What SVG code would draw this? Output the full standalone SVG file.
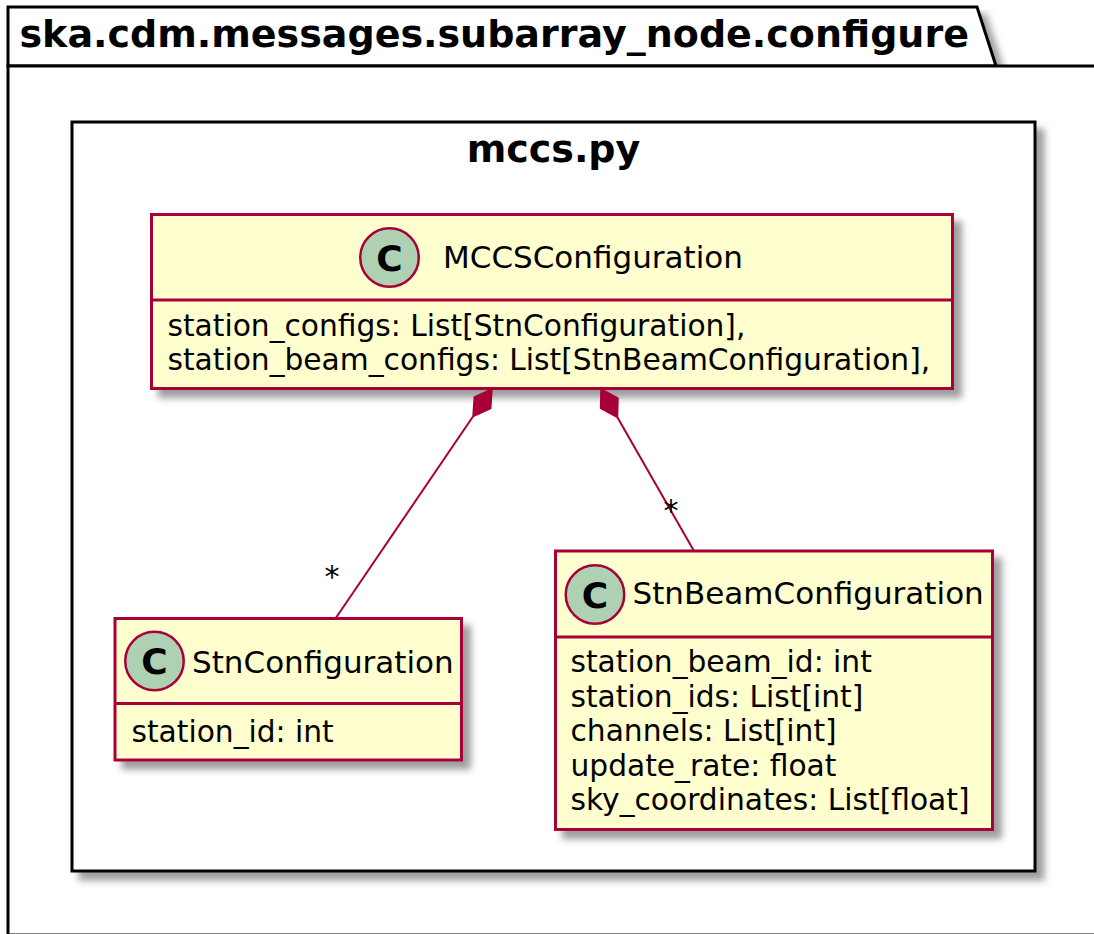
<svg xmlns="http://www.w3.org/2000/svg" width="1094" height="934" viewBox="0 0 1094 934">
  <defs>
    <filter id="shadow" x="-10%" y="-10%" width="130%" height="130%">
      <feGaussianBlur in="SourceAlpha" stdDeviation="3.5"/>
      <feOffset dx="8" dy="8" result="b"/>
      <feFlood flood-color="#000" flood-opacity="0.38"/>
      <feComposite in2="b" operator="in" result="s"/>
      <feMerge>
        <feMergeNode in="s"/>
        <feMergeNode in="SourceGraphic"/>
      </feMerge>
    </filter>
    <style>
      .pkg { fill: #ffffff; stroke: #000000; stroke-width: 3; }
      .cls { fill: #FEFECE; stroke: #A80036; stroke-width: 3; }
      .sep { stroke: #A80036; stroke-width: 3; }
      .circ { fill: #ADD1B2; stroke: #A80036; stroke-width: 2.5; }
      .cl { font-family: "DejaVu Sans", "Liberation Sans", sans-serif; font-weight: bold; font-size: 36px; fill: #000; text-anchor: middle; }
      .title { font-family: "DejaVu Sans", "Liberation Sans", sans-serif; font-weight: bold; font-size: 38px; fill: #000; }
      .name { font-family: "DejaVu Sans", "Liberation Sans", sans-serif; font-size: 31px; fill: #000; }
      .attr { font-family: "DejaVu Sans", "Liberation Sans", sans-serif; font-size: 29.7px; fill: #000; }
      .link { stroke: #A80036; stroke-width: 2; fill: none; }
      .dia { fill: #A80036; stroke: #A80036; stroke-width: 1.5; }
      .mult { font-family: "DejaVu Sans", "Liberation Sans", sans-serif; font-size: 30px; fill: #000; }
    </style>
  </defs>
  <rect x="0" y="0" width="1094" height="934" fill="#ffffff"/>

  <g id="package-ska-cdm-messages-subarray_node-configure">
    <path class="pkg" filter="url(#shadow)" d="M8,66 L8,7 L977,7 L996,66 Z"/>
    <rect class="pkg" x="8" y="66" width="1130" height="869"/>
    <text class="title" x="19.5" y="47">ska.cdm.messages.subarray_node.configure</text>
  </g>

  <g id="package-mccs-py">
    <rect class="pkg" filter="url(#shadow)" x="72" y="122" width="963" height="749"/>
    <text class="title" x="553.5" y="162" text-anchor="middle">mccs.py</text>
  </g>

  <g id="node-MCCSConfiguration">
    <rect class="cls" filter="url(#shadow)" x="151.5" y="214.5" width="801" height="174"/>
    <line class="sep" x1="151.5" y1="300" x2="952.5" y2="300"/>
    <circle class="circ" cx="389.5" cy="257.5" r="29.25"/>
    <text class="cl" x="389.5" y="270.5">C</text>
    <text class="name" x="443" y="268">MCCSConfiguration</text>
    <text class="attr" x="167.5" y="336">station_configs: List[StnConfiguration],</text>
    <text class="attr" x="167.5" y="370">station_beam_configs: List[StnBeamConfiguration],</text>
  </g>

  <g id="node-StnConfiguration">
    <rect class="cls" filter="url(#shadow)" x="115" y="618.5" width="346.5" height="141.5"/>
    <line class="sep" x1="115" y1="703.5" x2="461.5" y2="703.5"/>
    <circle class="circ" cx="154.5" cy="661" r="29.25"/>
    <text class="cl" x="154.5" y="674">C</text>
    <text class="name" x="192" y="673">StnConfiguration</text>
    <text class="attr" x="131.5" y="741.5">station_id: int</text>
  </g>

  <g id="node-StnBeamConfiguration">
    <rect class="cls" filter="url(#shadow)" x="555.5" y="551" width="437" height="278.5"/>
    <line class="sep" x1="555.5" y1="637" x2="992.5" y2="637"/>
    <circle class="circ" cx="595" cy="594.5" r="29.25"/>
    <text class="cl" x="595" y="607.5">C</text>
    <text class="name" x="632.5" y="603.5">StnBeamConfiguration</text>
    <text class="attr" x="570.5" y="672">station_beam_id: int</text>
    <text class="attr" x="570.5" y="706.5">station_ids: List[int]</text>
    <text class="attr" x="570.5" y="741">channels: List[int]</text>
    <text class="attr" x="570.5" y="775.5">update_rate: float</text>
    <text class="attr" x="570.5" y="810">sky_coordinates: List[float]</text>
  </g>

  <g id="connectors">
    <line class="link" x1="473" y1="416.5" x2="335.5" y2="618.5"/>
    <polygon class="dia" points="492,389 490.7,408.5 473,416.5 474.3,397"/>
    <text class="mult" x="324.5" y="587">*</text>

    <line class="link" x1="617.5" y1="417.5" x2="694" y2="551"/>
    <polygon class="dia" points="601,389 618,398.3 617.5,417.5 600.6,408.2"/>
    <text class="mult" x="663.5" y="521">*</text>
  </g>
</svg>
